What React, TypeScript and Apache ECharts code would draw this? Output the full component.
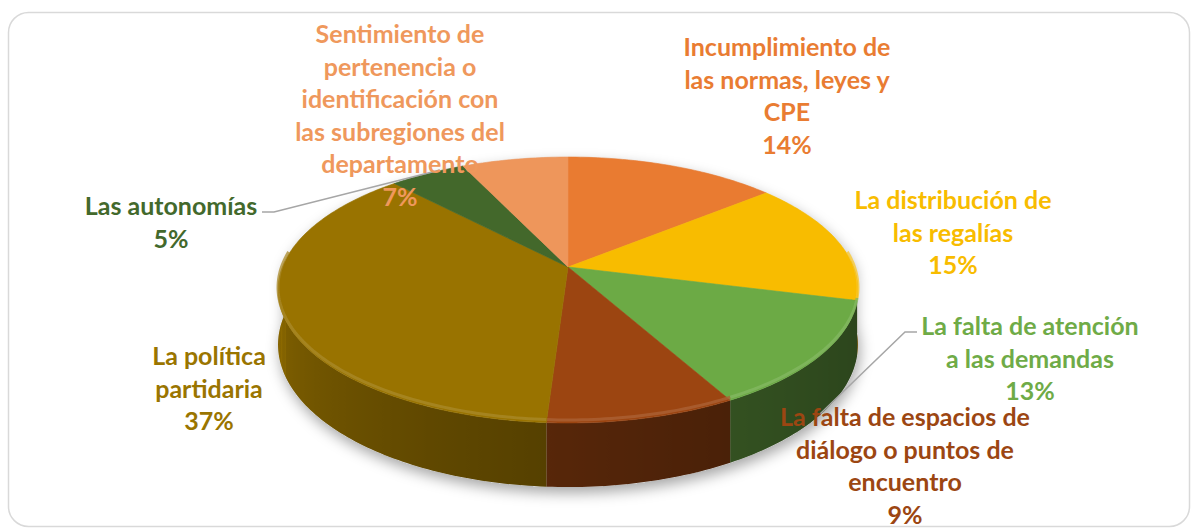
import React, { useEffect, useRef } from "react";
import * as echarts from "echarts";

// ---- data ----
const categories = [
  "Incumplimiento de las normas, leyes y CPE",
  "La distribución de las regalías",
  "La falta de atención a las demandas",
  "La falta de espacios de diálogo o puntos de encuentro",
  "La política partidaria",
  "Las autonomías",
  "Sentimiento de pertenencia o identificación con las subregiones del departamento",
];
const values = [14, 15, 13, 9, 37, 5, 7];
const labelLines = [
  ["Incumplimiento de", "las normas, leyes y", "CPE"],
  ["La distribución de", "las regalías"],
  ["La falta de atención", "a las demandas"],
  ["La falta de espacios de", "diálogo o puntos de", "encuentro"],
  ["La política", "partidaria"],
  ["Las autonomías"],
  ["Sentimiento de", "pertenencia o", "identificación con", "las subregiones del", "departamento"],
];

// ---- styles / layout ----
const sliceColors = ["#E97B31", "#F8BC00", "#6CAA45", "#9C4511", "#997300", "#43682B", "#EE965B"];
const labelColors = ["#E97C32", "#F8BC00", "#6FAB47", "#9C4612", "#9A7500", "#43692C", "#EF985C"];
const labelPos = [
  [787, 46],
  [953, 199],
  [1030, 325],
  [905, 416],
  [209, 355],
  [171, 205],
  [400, 33],
];
const LINE_H = 32.6;
const FONT = 'bold 25px Lato, "Open Sans", sans-serif';

const CX = 568, CY = 267, RX = 285.6, RY = 129, PERSP = 0.173, DEPTH = 53;
const TAU = Math.PI * 2;

const total = values.reduce((a, b) => a + b, 0);
const startAng: number[] = [];
{
  let acc = 0;
  values.forEach((v) => {
    startAng.push((acc / total) * TAU);
    acc += v;
  });
}

function proj(a: number, down = 0, r = 1): number[] {
  const u = r * Math.sin(a), v = r * Math.cos(a);
  const s = 1 + PERSP * v;
  return [CX + (RX * u) / s, CY + (-RY * v + down) / s];
}

function hexToRgb(h: string) {
  const n = parseInt(h.slice(1), 16);
  return [(n >> 16) & 255, (n >> 8) & 255, n & 255];
}
function shade(h: string, f: number) {
  const [r, g, b] = hexToRgb(h);
  return `rgb(${Math.round(r * f)},${Math.round(g * f)},${Math.round(b * f)})`;
}
function lighten(h: string, t: number) {
  const [r, g, b] = hexToRgb(h);
  return `rgb(${Math.round(r + (255 - r) * t)},${Math.round(g + (255 - g) * t)},${Math.round(b + (255 - b) * t)})`;
}
function wallFactor(a: number) {
  const t = Math.min(1, Math.max(0, (a - Math.PI / 2) / Math.PI));
  return 0.4 + 0.52 * Math.pow(t, 1.8);
}

const STEP = Math.PI / 180;

function renderWalls(params: any) {
  const i = params.dataIndex;
  const a0 = startAng[i];
  const a1 = a0 + (values[i] / total) * TAU;
  const children: any[] = [];
  if (i === 0) {
    const sil: number[][] = [];
    for (let a = -Math.PI / 2; a <= Math.PI / 2 + 1e-9; a += STEP) sil.push(proj(a));
    for (let a = Math.PI / 2; a <= 1.5 * Math.PI + 1e-9; a += STEP) sil.push(proj(a, DEPTH));
    children.push({
      type: "polygon",
      z2: -10,
      shape: { points: sil },
      style: {
        fill: "#cfcfcf",
        shadowBlur: 14,
        shadowColor: "rgba(0,0,0,0.35)",
        shadowOffsetX: 2,
        shadowOffsetY: 6,
      },
    });
  }
  const b0 = Math.max(a0, Math.PI / 2 - 0.05);
  const b1 = Math.min(a1, 1.5 * Math.PI + 0.05);
  if (b1 > b0) {
    const n = Math.max(2, Math.ceil((b1 - b0) / STEP));
    const topPts: number[][] = [];
    const botPts: number[][] = [];
    const samples: { x: number; c: string }[] = [];
    for (let k = 0; k <= n; k++) {
      const a = b0 + ((b1 - b0) * k) / n;
      const p = proj(a);
      topPts.push(p);
      botPts.push(proj(a, DEPTH));
      samples.push({ x: p[0], c: shade(sliceColors[i], wallFactor(a)) });
    }
    const xs = samples.map((s) => s.x);
    const xMin = Math.min(...xs), xMax = Math.max(...xs);
    const span = Math.max(1, xMax - xMin);
    const stops = samples
      .map((s) => ({ offset: (s.x - xMin) / span, color: s.c }))
      .sort((p, q) => p.offset - q.offset);
    const fill = new echarts.graphic.LinearGradient(xMin, 0, xMax, 0, stops, true);
    children.push({
      type: "polygon",
      shape: { points: [...topPts, ...botPts.reverse()] },
      style: { fill },
    });
  }
  return { type: "group", children };
}

function renderTop(params: any) {
  const i = params.dataIndex;
  const a0 = startAng[i];
  const a1 = a0 + (values[i] / total) * TAU;
  const pts: number[][] = [[CX, CY]];
  const n = Math.max(2, Math.ceil((a1 - a0) / STEP));
  for (let k = 0; k <= n; k++) pts.push(proj(a0 + ((a1 - a0) * k) / n));
  const color = sliceColors[i];
  const children: any[] = [
    { type: "polygon", shape: { points: pts }, style: { fill: color, stroke: color, lineWidth: 0.6 } },
  ];
  const b0 = Math.max(a0, Math.PI / 2 - 0.1);
  const b1 = Math.min(a1, 1.5 * Math.PI + 0.1);
  if (b1 > b0) {
    const m = Math.max(1, Math.ceil((b1 - b0) / STEP));
    const bev: number[][] = [];
    for (let k = 0; k <= m; k++) bev.push(proj(b0 + ((b1 - b0) * k) / m, -2.5, 1));
    children.push({
      type: "polyline",
      shape: { points: bev },
      style: { stroke: lighten(color, 0.16), lineWidth: 3, fill: "none", opacity: 0.75 },
    });
  }
  return { type: "group", children };
}

export default function App() {
  const ref = useRef<HTMLDivElement>(null);
  useEffect(() => {
    if (!ref.current) return;
    const chart = echarts.init(ref.current, null, { renderer: "svg" });
    const labelGraphics = values.map((v, i) => ({
      type: "text",
      z: 100,
      silent: true,
      x: labelPos[i][0],
      y: labelPos[i][1] - LINE_H / 2,
      style: {
        text: [...labelLines[i], Math.round((v / total) * 100) + "%"].join("\n"),
        font: FONT,
        fill: labelColors[i],
        align: "center",
        textAlign: "center",
        verticalAlign: "top",
        textVerticalAlign: "top",
        lineHeight: LINE_H,
      },
    }));
    chart.setOption({
      animation: false,
      backgroundColor: "#ffffff",
      graphic: [
        {
          type: "rect",
          z: 0,
          silent: true,
          shape: { x: 8.5, y: 12.5, width: 1181, height: 514, r: 20 },
          style: { fill: "none", stroke: "#D9D9D9", lineWidth: 1.5 },
        },
        {
          type: "polyline",
          z: 90,
          silent: true,
          shape: { points: [[262, 212], [274, 212], [440, 170]] },
          style: { stroke: "#A6A6A6", lineWidth: 1.5, fill: "none" },
        },
        {
          type: "polyline",
          z: 90,
          silent: true,
          shape: { points: [[917, 332], [905, 332], [820, 414]] },
          style: { stroke: "#A6A6A6", lineWidth: 1.5, fill: "none" },
        },
        ...labelGraphics,
      ],
      series: [
        {
          type: "custom",
          name: "walls",
          coordinateSystem: "none",
          silent: true,
          z: 2,
          renderItem: renderWalls,
          data: values.map((v, i) => ({ name: categories[i], value: [v, i] })),
        },
        {
          type: "custom",
          name: "tops",
          coordinateSystem: "none",
          silent: true,
          z: 3,
          renderItem: renderTop,
          data: values.map((v, i) => ({ name: categories[i], value: [v, i] })),
        },
      ],
    });
    return () => chart.dispose();
  }, []);
  return (
    <div
      ref={ref}
      style={{ position: "absolute", left: 0, top: 0, width: 1197, height: 528, background: "#fff" }}
    />
  );
}
